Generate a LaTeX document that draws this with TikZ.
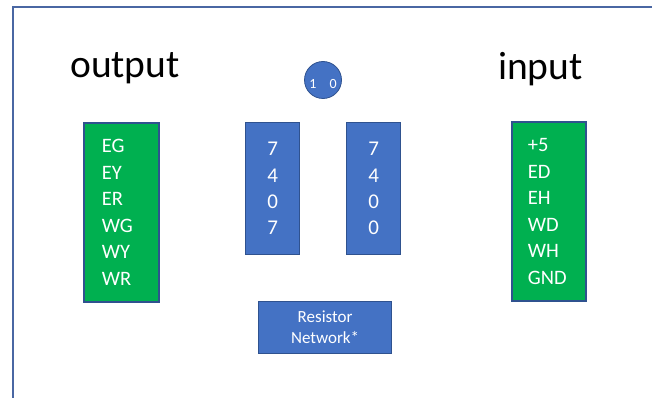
\documentclass[tikz,border=0pt]{standalone}
\usepackage{fontspec}
\setmainfont{Carlito}
\definecolor{grn}{HTML}{00B050}
\definecolor{blu}{HTML}{4472C4}
\definecolor{edge}{HTML}{2F528F}
\definecolor{frame}{HTML}{4A67A3}
\begin{document}
\begin{tikzpicture}[x=1pt,y=-1pt,
 pinbox/.style={draw=edge, line width=1.8pt, fill=grn, text=white, align=left, inner ysep=0pt, minimum height=179pt, font=\fontsize{20.5}{26.6}\selectfont, anchor=north west},
 chip/.style={draw=edge, line width=1.2pt, fill=blu, text=white, align=center, minimum width=54pt, minimum height=132pt, inner sep=0pt, font=\fontsize{21}{26.4}\selectfont, anchor=north west},
 title/.style={font=\fontsize{39.5}{40}\selectfont, anchor=base west, inner sep=0pt}]
\useasboundingbox (0,0) rectangle (652,398);
\draw[frame, line width=1.6pt] (13,7) rectangle (680,420);
\node[title] (out) at (70,78) {output};
\node[title] (in) at (498,80) {input};
\node[pinbox, text width=39pt, inner xsep=18pt] (left) at (83,122) {EG\\EY\\ER\\WG\\WY\\WR};
\node[pinbox, text width=42pt, inner xsep=16pt] (right) at (511,121) {+5\\ED\\EH\\WD\\WH\\GND};
\node[chip] (c1) at (245,122) {7\\4\\0\\7};
\node[chip] (c2) at (346,122) {7\\4\\0\\0};
\node[chip, minimum width=133pt, minimum height=52pt, font=\fontsize{17}{21}\selectfont] (res) at (258,301) {Resistor\\Network*};
\node[circle, draw=edge, line width=0.8pt, fill=blu, minimum size=37pt, inner sep=0pt] (sw) at (323,80) {};
\node[text=white, font=\fontsize{14}{14}\selectfont, inner sep=0pt] (swt) at (323,84) {1\hspace{13pt}0};
\end{tikzpicture}
\end{document}
